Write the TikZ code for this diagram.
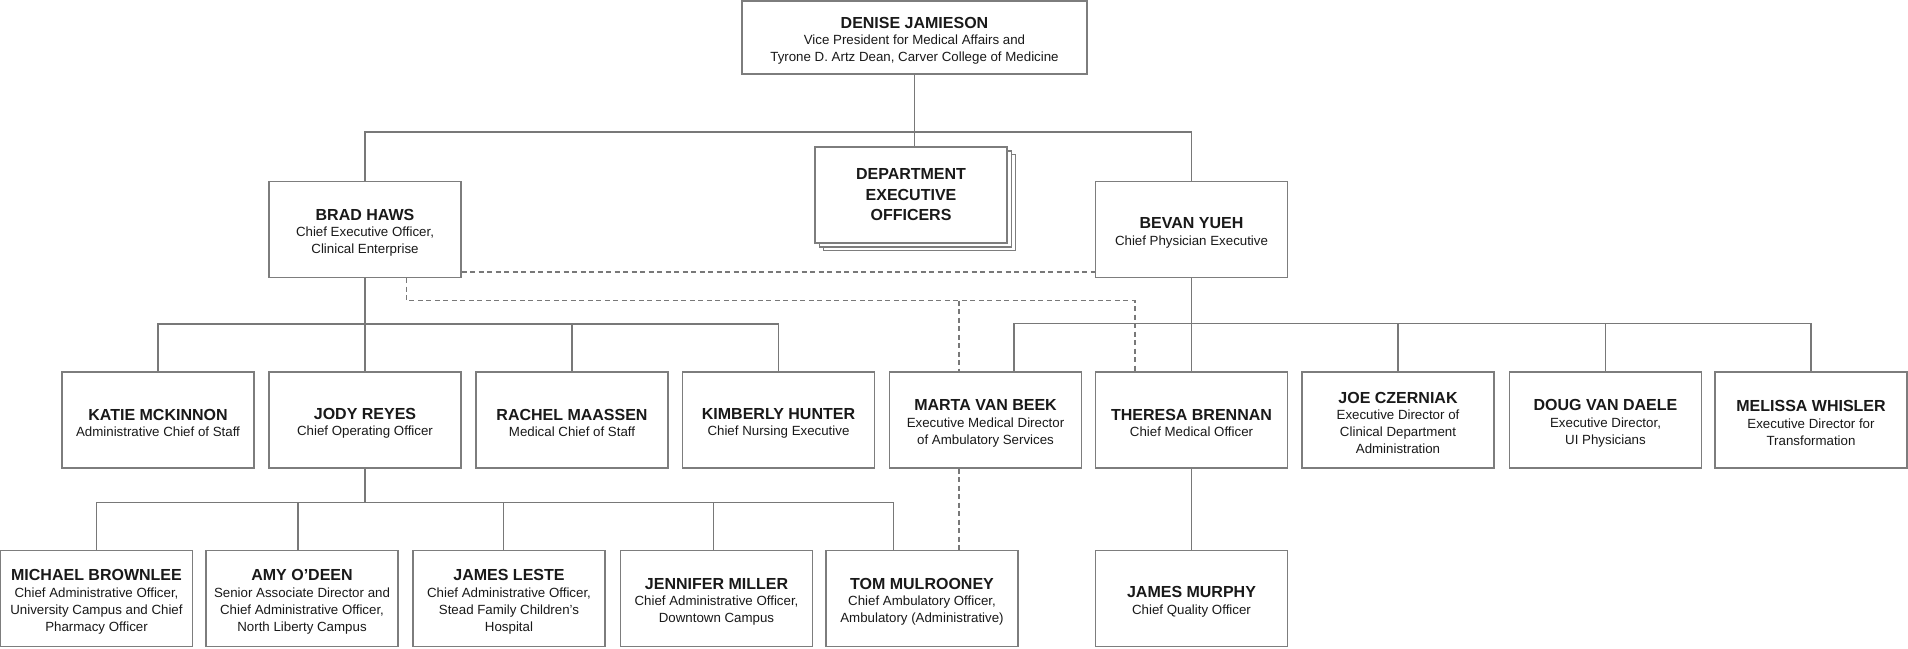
\documentclass[tikz,border=0pt]{standalone}
\usepackage{fontspec}
\setmainfont{Liberation Sans}
\definecolor{boxline}{RGB}{125,125,125}
\definecolor{connline}{RGB}{120,120,120}
\definecolor{txtcol}{RGB}{25,25,25}
\newcommand{\orgname}[1]{\rule{0pt}{17.5pt}{\fontsize{16}{17}\selectfont\bfseries #1}}
\tikzset{
  orgbox/.style={draw=boxline, line width=1.4pt, fill=white, minimum width=192pt,
    minimum height=96pt, inner sep=0pt, align=center, text=txtcol,
    font=\fontsize{13.3}{17}\selectfont},
  conn/.style={draw=connline, line width=1.1pt},
  dashconn/.style={draw=connline, line width=1.1pt, dash pattern=on 5pt off 3.5pt},
}
\begin{document}
\begin{tikzpicture}[x=1pt,y=-1pt]
\useasboundingbox (0,0) rectangle (1908,648);
\fill[white] (0,0) rectangle (1908,648);

% top
\node[orgbox, minimum width=345pt, minimum height=73pt] (denise) at (914.5,37.5)
  {\orgname{DENISE JAMIESON}\\[-0.5pt] Vice President for Medical Affairs and\\ Tyrone D. Artz Dean, Carver College of Medicine};

% department stack
\node[orgbox] (dept3) at (919.5,202.5) {};
\node[orgbox] (dept2) at (915.5,199) {};
\node[orgbox, font=\fontsize{16}{20.5}\selectfont\bfseries] (dept) at (911,195)
  {DEPARTMENT\\ EXECUTIVE\\ OFFICERS};

% level 1
\node[orgbox] (brad) at (365,229.5) {\orgname{BRAD HAWS}\\[-0.5pt] Chief Executive Officer,\\ Clinical Enterprise};
\node[orgbox] (bevan) at (1191.5,229.5) {\orgname{BEVAN YUEH}\\[-0.5pt] Chief Physician Executive};

% level 2
\node[orgbox] (katie) at (158,420) {\orgname{KATIE MCKINNON}\\[-0.5pt] Administrative Chief of Staff};
\node[orgbox] (jody) at (365,420) {\orgname{JODY REYES}\\[-0.5pt] Chief Operating Officer};
\node[orgbox] (rachel) at (572,420) {\orgname{RACHEL MAASSEN}\\[-0.5pt] Medical Chief of Staff};
\node[orgbox] (kimberly) at (778.5,420) {\orgname{KIMBERLY HUNTER}\\[-0.5pt] Chief Nursing Executive};
\node[orgbox] (marta) at (985.5,420) {\orgname{MARTA VAN BEEK}\\[-0.5pt] Executive Medical Director\\ of Ambulatory Services};
\node[orgbox] (theresa) at (1191.5,420) {\orgname{THERESA BRENNAN}\\[-0.5pt] Chief Medical Officer};
\node[orgbox] (joe) at (1398,420) {\orgname{JOE CZERNIAK}\\[-0.5pt] Executive Director of\\ Clinical Department\\ Administration};
\node[orgbox] (doug) at (1605.5,420) {\orgname{DOUG VAN DAELE}\\[-0.5pt] Executive Director,\\ UI Physicians};
\node[orgbox] (melissa) at (1811,420) {\orgname{MELISSA WHISLER}\\[-0.5pt] Executive Director for\\ Transformation};

% level 3
\node[orgbox] (michael) at (96.5,598.5) {\orgname{MICHAEL BROWNLEE}\\[-0.5pt] Chief Administrative Officer,\\ University Campus and Chief\\ Pharmacy Officer};
\node[orgbox] (amy) at (302,598.5) {\orgname{AMY O’DEEN}\\[-0.5pt] Senior Associate Director and\\ Chief Administrative Officer,\\ North Liberty Campus};
\node[orgbox] (leste) at (509,598.5) {\orgname{JAMES LESTE}\\[-0.5pt] Chief Administrative Officer,\\ Stead Family Children’s\\ Hospital};
\node[orgbox] (jennifer) at (716.5,598.5) {\orgname{JENNIFER MILLER}\\[-0.5pt] Chief Administrative Officer,\\ Downtown Campus};
\node[orgbox] (tom) at (922,598.5) {\orgname{TOM MULROONEY}\\[-0.5pt] Chief Ambulatory Officer,\\ Ambulatory (Administrative)};
\node[orgbox] (murphy) at (1191.5,598.5) {\orgname{JAMES MURPHY}\\[-0.5pt] Chief Quality Officer};

% bus coordinates
\coordinate (bus1) at (0,132);
\coordinate (bus2) at (0,324);
\coordinate (bus3) at (0,323.5);
\coordinate (bus4) at (0,502.7);
\coordinate (dl1) at (0,272);
\coordinate (dl2) at (0,300.7);
\coordinate (deniseD) at ([xshift=0.2pt]denise.south);
\coordinate (martaT) at ([xshift=28.5pt]marta.north);
\coordinate (amyT) at ([xshift=-4pt]amy.north);
\coordinate (lesteT) at ([xshift=-5.5pt]leste.north);
\coordinate (jenT) at ([xshift=-3pt]jennifer.north);
\coordinate (tomT) at ([xshift=-28.5pt]tom.north);
\coordinate (bradD) at ([xshift=41.4pt]brad.south);
\coordinate (theresaD) at ([xshift=-56.5pt]theresa.north);
\coordinate (martaD) at ([xshift=-26.5pt]marta.north);

% solid connectors
\draw[conn] (deniseD) -- (deniseD |- dept.north);
\draw[conn] (brad.north) -- (brad.north |- bus1) -| (bevan.north);
\draw[conn] (brad.south) -- (jody.north);
\draw[conn] (katie.north) -- (katie.north |- bus2) -| (kimberly.north);
\draw[conn] (rachel.north) -- (rachel.north |- bus2);
\draw[conn] (bevan.south) -- (theresa.north);
\draw[conn] (martaT) -- (martaT |- bus3) -| (melissa.north);
\draw[conn] (joe.north) -- (joe.north |- bus3);
\draw[conn] (doug.north) -- (doug.north |- bus3);
\draw[conn] (jody.south) -- (jody.south |- bus4);
\draw[conn] (michael.north) -- (michael.north |- bus4) -| (tomT);
\draw[conn] (amyT) -- (amyT |- bus4);
\draw[conn] (lesteT) -- (lesteT |- bus4);
\draw[conn] (jenT) -- (jenT |- bus4);
\draw[conn] (theresa.south) -- (murphy.north);

% dashed connectors
\draw[dashconn] (brad.east |- dl1) -- (bevan.west |- dl1);
\draw[dashconn] (bradD) -- (bradD |- dl2) -| (theresaD);
\draw[dashconn] (martaD |- dl2) -- (martaD);
\draw[dashconn] (martaD |- marta.south) -- (martaD |- tom.north);
\end{tikzpicture}
\end{document}
